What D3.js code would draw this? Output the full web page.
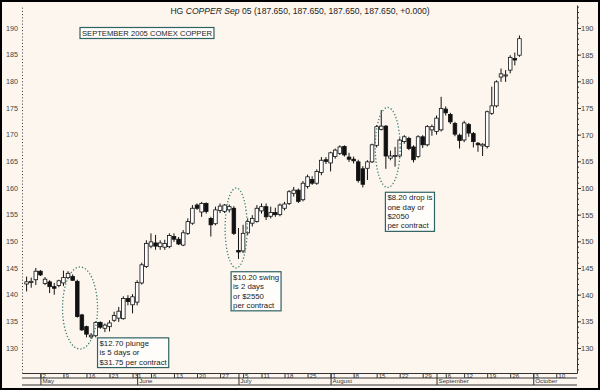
<!DOCTYPE html>
<html>
<head>
<meta charset="utf-8">
<script src="https://cdn.jsdelivr.net/npm/d3@7"></script>
<style>
  body { margin: 0; background: #fff; }
  svg { display: block; font-family: "Liberation Sans", Arial, sans-serif; }
</style>
</head>
<body>
<svg id="chart" width="600" height="390"></svg>
<script>
// daily sessions, session 0 = Apr 27 2005
var opens = [142.0, 142.3, 142.8, 144.4, 142.1, 142.4, 141.5, 141.7, 142.2, 143.2,
  143.4, 142.5, 136.2, 134.0, 132.1, 132.3, 134.8, 133.7, 134.0, 135.2,
  135.6, 135.5, 139.3, 138.1, 138.6, 142.2, 145.3, 149.1, 149.7, 149.0,
  148.9, 149.0, 150.9, 150.4, 149.3, 151.5, 153.4, 156.8, 155.5, 157.1,
  154.3, 153.3, 155.8, 155.6, 155.9, 156.2, 148.3, 148.2, 151.6, 153.4,
  153.7, 155.7, 156.5, 154.7, 155.4, 155.0, 156.2, 157.1, 159.0, 159.6,
  157.8, 160.3, 161.6, 160.9, 162.9, 165.3, 164.7, 165.9, 166.5, 167.8,
  165.8, 165.4, 164.9, 163.6, 163.7, 164.9, 168.0, 171.0, 171.6, 165.6,
  165.9, 166.0, 168.7, 169.3, 167.7, 165.9, 169.6, 168.1, 170.9, 170.6,
  170.9, 174.8, 173.8, 172.1, 169.9, 169.0, 171.9, 170.2, 168.4, 167.9,
  167.8, 174.0, 175.4, 180.8, 181.0, 182.1, 184.3, 184.9];
var highs = [143.4, 143.2, 145.0, 144.6, 143.3, 142.7, 142.2, 142.8, 144.5, 144.4,
  143.8, 142.8, 136.4, 134.2, 132.8, 135.0, 135.0, 134.6, 135.2, 136.8,
  137.7, 139.7, 139.9, 140.1, 142.7, 146.0, 150.2, 151.5, 151.2, 150.2,
  150.3, 151.5, 151.5, 150.8, 152.1, 154.3, 156.8, 157.1, 157.4, 157.3,
  154.6, 156.5, 157.1, 157.0, 156.9, 156.6, 152.5, 153.1, 154.3, 154.9,
  156.8, 157.1, 157.1, 156.5, 156.3, 157.1, 157.4, 159.6, 160.2, 159.9,
  161.3, 162.5, 162.2, 163.5, 165.8, 165.8, 166.8, 167.4, 168.0, 168.0,
  166.6, 165.9, 165.3, 164.1, 165.2, 168.3, 171.8, 174.6, 171.8, 167.0,
  167.7, 169.3, 169.9, 169.6, 168.0, 169.9, 169.9, 171.8, 171.9, 173.6,
  177.1, 175.3, 174.1, 172.4, 170.2, 172.6, 172.2, 170.5, 168.6, 168.4,
  174.5, 179.0, 180.2, 182.4, 182.1, 184.9, 185.4, 188.6];
var lows = [140.6, 141.3, 141.8, 143.5, 141.8, 140.3, 140.0, 141.4, 141.6, 142.9,
  142.6, 135.7, 133.2, 132.0, 131.7, 132.0, 133.6, 133.0, 133.1, 134.9,
  134.9, 135.3, 138.0, 136.5, 138.0, 141.9, 145.0, 148.7, 148.4, 148.4,
  148.4, 148.7, 149.9, 149.3, 149.1, 151.2, 153.1, 155.9, 154.6, 155.2,
  150.9, 153.0, 155.3, 155.3, 155.4, 151.2, 146.7, 147.8, 151.2, 152.8,
  153.5, 155.2, 154.0, 154.3, 154.6, 154.7, 155.8, 156.8, 158.4, 157.2,
  157.5, 159.9, 160.6, 160.6, 162.4, 164.5, 163.1, 165.5, 166.2, 165.9,
  164.9, 164.6, 161.0, 160.1, 161.5, 164.7, 167.6, 170.8, 163.6, 165.2,
  164.0, 165.8, 168.3, 167.1, 164.8, 165.6, 167.5, 167.8, 169.8, 170.0,
  170.6, 173.6, 172.0, 169.7, 167.4, 168.6, 169.6, 167.6, 166.8, 166.0,
  167.4, 173.7, 175.1, 179.9, 179.9, 181.5, 183.0, 184.6];
var closes = [142.4, 142.5, 144.4, 143.7, 142.9, 141.5, 141.2, 142.6, 143.2, 144.0,
  142.7, 135.9, 133.4, 132.6, 132.4, 134.8, 133.9, 134.3, 134.7, 136.1,
  136.9, 139.3, 138.7, 139.6, 142.3, 145.6, 149.6, 149.9, 149.1, 149.7,
  149.6, 151.1, 150.4, 149.5, 151.6, 153.7, 156.2, 156.2, 157.1, 155.6,
  153.1, 155.9, 156.6, 156.8, 156.5, 151.5, 148.0, 151.5, 153.7, 154.3,
  156.2, 156.5, 154.6, 155.4, 155.0, 156.8, 157.0, 159.3, 159.6, 157.5,
  160.9, 162.1, 160.9, 163.1, 165.2, 165.0, 166.6, 167.1, 167.7, 166.2,
  165.4, 165.1, 161.4, 160.7, 164.9, 168.1, 171.5, 171.6, 166.0, 166.0,
  166.1, 169.0, 169.6, 167.4, 165.3, 169.6, 168.1, 171.5, 171.5, 173.1,
  174.9, 174.1, 172.4, 170.1, 168.9, 172.2, 170.3, 168.7, 168.1, 168.2,
  174.3, 175.4, 179.9, 181.4, 181.2, 184.5, 184.0, 188.0];

var priceTicks = [130, 135, 140, 145, 150, 155, 160, 165, 170, 175, 180, 185, 190];
var weekTickDays = [3, 8, 13, 18, 23, 27, 32, 37, 42, 47, 51, 56, 61, 66, 71, 76, 81, 86, 91, 95, 100, 105, 110, 115];
var weekTickLabels = ["2", "9", "16", "23", "31", "6", "13", "20", "27", "5", "11", "18",
  "25", "1", "8", "15", "22", "29", "6", "12", "19", "26", "3", "10"];
var monthTickDays = [3, 24, 46, 66, 89, 110];
var monthLabels = ["May", "June", "July", "August", "September", "October"];

var titleText = "(187.650, 187.650, 187.650, 187.650, +0.000)";
var boxTitle = "SEPTEMBER 2005 COMEX COPPER";

// rings and notes, placed in session / price units
var rings = [
  { day: 11.6, price: 137.5, rDays: 3.8, rPrice: 7.7 },
  { day: 45.5, price: 152.5, rDays: 2.4, rPrice: 7.5 },
  { day: 78.4, price: 167.6, rDays: 2.7, rPrice: 7.5 }
];
var notes = [
  { day: 15.4, price: 131.9, lines: ["$12.70 plunge", "is 5 days or", "$31.75 per contract"] },
  { day: 44.4, price: 144.3, lines: ["$10.20 swing", "is 2 days", "or $2550", "per contract"] },
  { day: 77.9, price: 159.2, lines: ["$8.20 drop is", "one day or", "$2050", "per contract"] }
];

var svg = d3.select("#chart");
var plot = { left: 22, right: 577, top: 5, bottom: 373 };

var x = d3.scaleLinear().domain([-1, 119.5]).range([plot.left, plot.right]);
var y = d3.scaleLinear().domain([130, 190]).range([348, 28]);
var yAxisScale = y.copy().domain([y.invert(plot.bottom), y.invert(plot.top)]).range([plot.bottom, plot.top]);

svg.append("rect")
  .attr("x", 1).attr("y", 1).attr("width", 598).attr("height", 388)
  .attr("fill", "#fdf6ef").attr("stroke", "#000").attr("stroke-width", 2);

// title
var title = svg.append("text")
  .attr("x", 300).attr("y", 14)
  .attr("text-anchor", "middle")
  .attr("font-size", 8.6)
  .attr("fill", "#222");
title.append("tspan").text("HG ");
title.append("tspan").attr("font-style", "italic").text("COPPER Sep");
title.append("tspan").text(" 05 " + titleText);

// boxed caption
var cap = svg.append("g");
var capText = cap.append("text")
  .attr("x", 82).attr("y", 36)
  .attr("font-size", 7.6)
  .attr("fill", "#222")
  .text(boxTitle);
var cw = capText.node().getComputedTextLength();
cap.insert("rect", "text")
  .attr("x", 80).attr("y", 27.5).attr("width", cw + 4).attr("height", 11)
  .attr("fill", "#fffdfa").attr("stroke", "#2f6262").attr("stroke-width", 1.2);

// right axis
var gRight = svg.append("g").attr("transform", "translate(" + plot.right + ",0)");
gRight.call(d3.axisRight(yAxisScale).tickValues(d3.range(126, 195, 1)).tickSize(2).tickSizeOuter(0).tickFormat(""));
gRight.append("g").call(d3.axisRight(yAxisScale).tickValues(priceTicks).tickSize(4).tickPadding(0))
  .call(function (g) { g.select(".domain").remove(); });
gRight.selectAll("path, line").attr("stroke", "#333");
gRight.selectAll("text").attr("font-size", 7.5).attr("fill", "#444").attr("font-family", "Liberation Sans, Arial, sans-serif");

// left axis, dotted
var gLeft = svg.append("g").attr("transform", "translate(" + plot.left + ",0)");
gLeft.call(d3.axisLeft(yAxisScale).tickValues(priceTicks).tickSize(0).tickSizeOuter(0).tickPadding(4));
gLeft.select(".domain").attr("stroke", "#444").attr("stroke-dasharray", "1,2.2");
gLeft.selectAll("text").attr("font-size", 7.2).attr("fill", "#444").attr("font-family", "Liberation Sans, Arial, sans-serif");

// time axis
var gWeek = svg.append("g").attr("transform", "translate(0," + plot.bottom + ")");
gWeek.call(d3.axisBottom(x).tickValues(weekTickDays).tickSize(5).tickSizeOuter(0)
  .tickFormat(function (d, i) { return weekTickLabels[i]; }));
gWeek.selectAll("text")
  .attr("text-anchor", "start").attr("x", 1.5).attr("y", -0.3).attr("dy", "0.8em")
  .attr("font-size", 6.2).attr("fill", "#333").attr("font-family", "Liberation Sans, Arial, sans-serif");

var gMonth = svg.append("g").attr("transform", "translate(0," + plot.bottom + ")");
gMonth.call(d3.axisBottom(x).tickValues(monthTickDays).tickSize(12).tickSizeOuter(0)
  .tickFormat(function (d, i) { return monthLabels[i]; }));
gMonth.select(".domain").remove();
gMonth.selectAll("text")
  .attr("text-anchor", "start").attr("x", 1.5).attr("y", 5.5).attr("dy", "0.8em")
  .attr("font-size", 6.2).attr("fill", "#333").attr("font-family", "Liberation Sans, Arial, sans-serif");

svg.selectAll(".tick line, .domain").attr("stroke", "#333");

[plot.bottom + 5, plot.bottom + 12].forEach(function (yy) {
  svg.append("line")
    .attr("x1", plot.left).attr("x2", plot.right)
    .attr("y1", yy).attr("y2", yy)
    .attr("stroke", "#333");
});

// candles
var data = opens.map(function (o, i) {
  return { i: i, o: o, h: highs[i], l: lows[i], c: closes[i] };
});
var bodyW = 3.6;

var candles = svg.append("g").selectAll("g").data(data).enter().append("g");

candles.append("line")
  .attr("x1", function (d) { return x(d.i); })
  .attr("x2", function (d) { return x(d.i); })
  .attr("y1", function (d) { return y(d.h); })
  .attr("y2", function (d) { return y(d.l); })
  .attr("stroke", "#111").attr("stroke-width", 1);

candles.append("rect")
  .attr("x", function (d) { return x(d.i) - bodyW / 2; })
  .attr("width", bodyW)
  .attr("y", function (d) { return y(Math.max(d.o, d.c)); })
  .attr("height", function (d) { return Math.max(1, Math.abs(y(d.o) - y(d.c))); })
  .attr("fill", function (d) { return d.c >= d.o ? "#fff" : "#111"; })
  .attr("stroke", "#111").attr("stroke-width", 0.8);

// dotted rings
svg.append("g").selectAll("ellipse").data(rings).enter().append("ellipse")
  .attr("cx", function (d) { return x(d.day); })
  .attr("cy", function (d) { return y(d.price); })
  .attr("rx", function (d) { return x(d.day + d.rDays) - x(d.day); })
  .attr("ry", function (d) { return y(d.price - d.rPrice) - y(d.price); })
  .attr("fill", "none")
  .attr("stroke", "#3f7f76").attr("stroke-width", 1.3)
  .attr("stroke-dasharray", "1.3,2");

// note boxes
var lineH = 9.4;
notes.forEach(function (n) {
  var g = svg.append("g").attr("transform", "translate(" + x(n.day) + "," + y(n.price) + ")");
  var t = g.append("text").attr("font-size", 7.8).attr("fill", "#222");
  n.lines.forEach(function (s, k) {
    t.append("tspan").attr("x", 2).attr("y", 8 + k * lineH).text(s);
  });
  var w = d3.max(t.selectAll("tspan").nodes(), function (el) { return el.getComputedTextLength(); });
  g.insert("rect", "text")
    .attr("x", 0).attr("y", 0)
    .attr("width", w + 4).attr("height", n.lines.length * lineH + 1.5)
    .attr("fill", "#fffdfa").attr("stroke", "#2f6262").attr("stroke-width", 1.2);
});
</script>
</body>
</html>
